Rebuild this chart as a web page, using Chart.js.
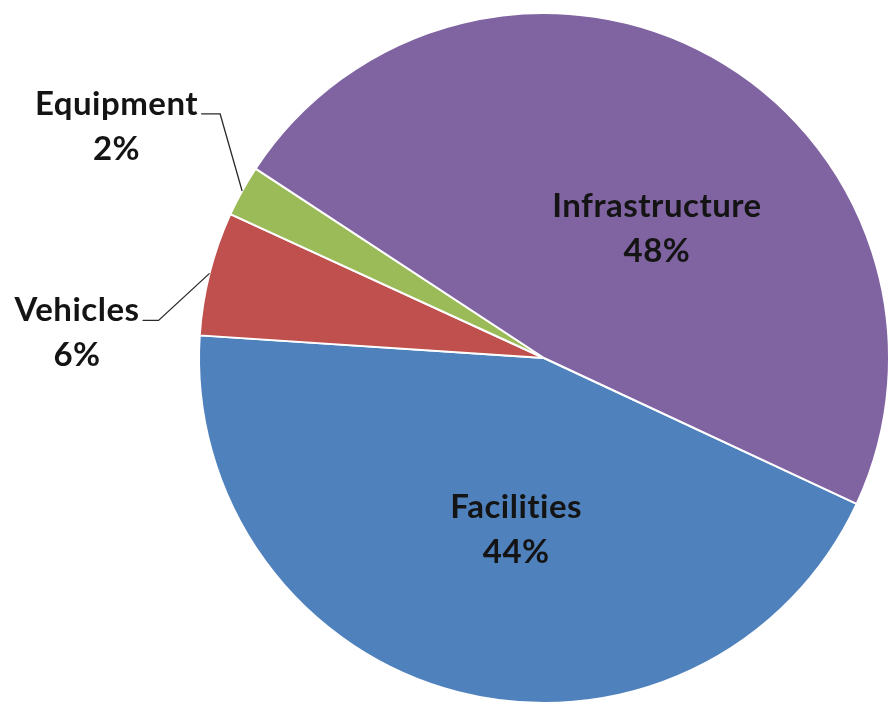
<!DOCTYPE html>
<html>
<head>
<meta charset="utf-8">
<script src="https://cdn.jsdelivr.net/npm/chart.js@4.4.1/dist/chart.umd.min.js"></script>
<style>
    html, body { margin: 0; padding: 0; background: #fff; }
    #wrap { width: 890px; height: 710px; }
</style>
</head>
<body>
<div id="wrap"><canvas id="chart"></canvas></div>
<script>
// Spending by asset category (percent)
const categories = ['Facilities', 'Vehicles', 'Equipment', 'Infrastructure'];
const shares = [44.1, 5.8, 2.4, 47.7];
const colors = ['#4f81bd', '#c0504d', '#9bbb59', '#8064a2'];

// label placement: inside slices get a small nudge, outside ones a leader line
const labelStyle = {
    Facilities: { inside: true, nudge: [15, 5] },
    Infrastructure: { inside: true, nudge: [29, 22] },
    Vehicles: { inside: false, elbow: [-51, 47], run: 16 },
    Equipment: { inside: false, elbow: [-22, -77], run: 19 }
};

const labelFont = 'bold 33px Lato';
const lineGap = 45;

const sliceLabels = {
    id: 'sliceLabels',
    afterDatasetsDraw(chart) {
        const ctx = chart.ctx;
        const meta = chart.getDatasetMeta(0);
        const data = chart.data.datasets[0].data;
        const total = data.reduce((a, b) => a + b, 0);

        ctx.save();
        ctx.font = labelFont;
        ctx.letterSpacing = '0.5px'; // also keeps "ti" from turning into a ligature
        ctx.fillStyle = '#141414';
        ctx.textBaseline = 'middle';
        ctx.textAlign = 'center';

        meta.data.forEach((arc, i) => {
            const p = arc.getProps(['x', 'y', 'startAngle', 'endAngle', 'outerRadius'], true);
            const mid = (p.startAngle + p.endAngle) / 2;
            const name = chart.data.labels[i];
            const pct = Math.round(data[i] / total * 100) + '%';
            const style = labelStyle[name];

            if (style.inside) {
                const cx = p.x + Math.cos(mid) * p.outerRadius * 0.5 + style.nudge[0];
                const cy = p.y + Math.sin(mid) * p.outerRadius * 0.5 + style.nudge[1];
                ctx.fillText(name, cx, cy - lineGap / 2);
                ctx.fillText(pct, cx, cy + lineGap / 2);
                return;
            }

            // leader line from the slice edge to the label
            const ex = p.x + Math.cos(mid) * p.outerRadius;
            const ey = p.y + Math.sin(mid) * p.outerRadius;
            const bx = ex + style.elbow[0];
            const by = ey + style.elbow[1];
            const tx = bx - style.run;

            ctx.strokeStyle = '#2b2b2b';
            ctx.lineWidth = 1.3;
            ctx.beginPath();
            ctx.moveTo(ex, ey);
            ctx.lineTo(bx, by);
            ctx.lineTo(tx, by);
            ctx.stroke();

            const w = ctx.measureText(name).width;
            const cx = tx - 3 - w / 2;
            ctx.fillText(name, cx, by - 10);
            ctx.fillText(pct, cx, by - 10 + lineGap);
        });
        ctx.restore();
    }
};

new Chart(document.getElementById('chart').getContext('2d'), {
    type: 'pie',
    data: {
        labels: categories,
        datasets: [{
            data: shares,
            backgroundColor: colors,
            borderColor: '#ffffff',
            borderWidth: 2
        }]
    },
    options: {
        responsive: true,
        maintainAspectRatio: false,
        animation: false,
        rotation: 115,
        layout: {
            padding: { left: 198, top: 12, right: 0, bottom: 6 }
        },
        plugins: {
            legend: { display: false },
            tooltip: { enabled: false }
        }
    },
    plugins: [sliceLabels]
});
</script>
</body>
</html>
